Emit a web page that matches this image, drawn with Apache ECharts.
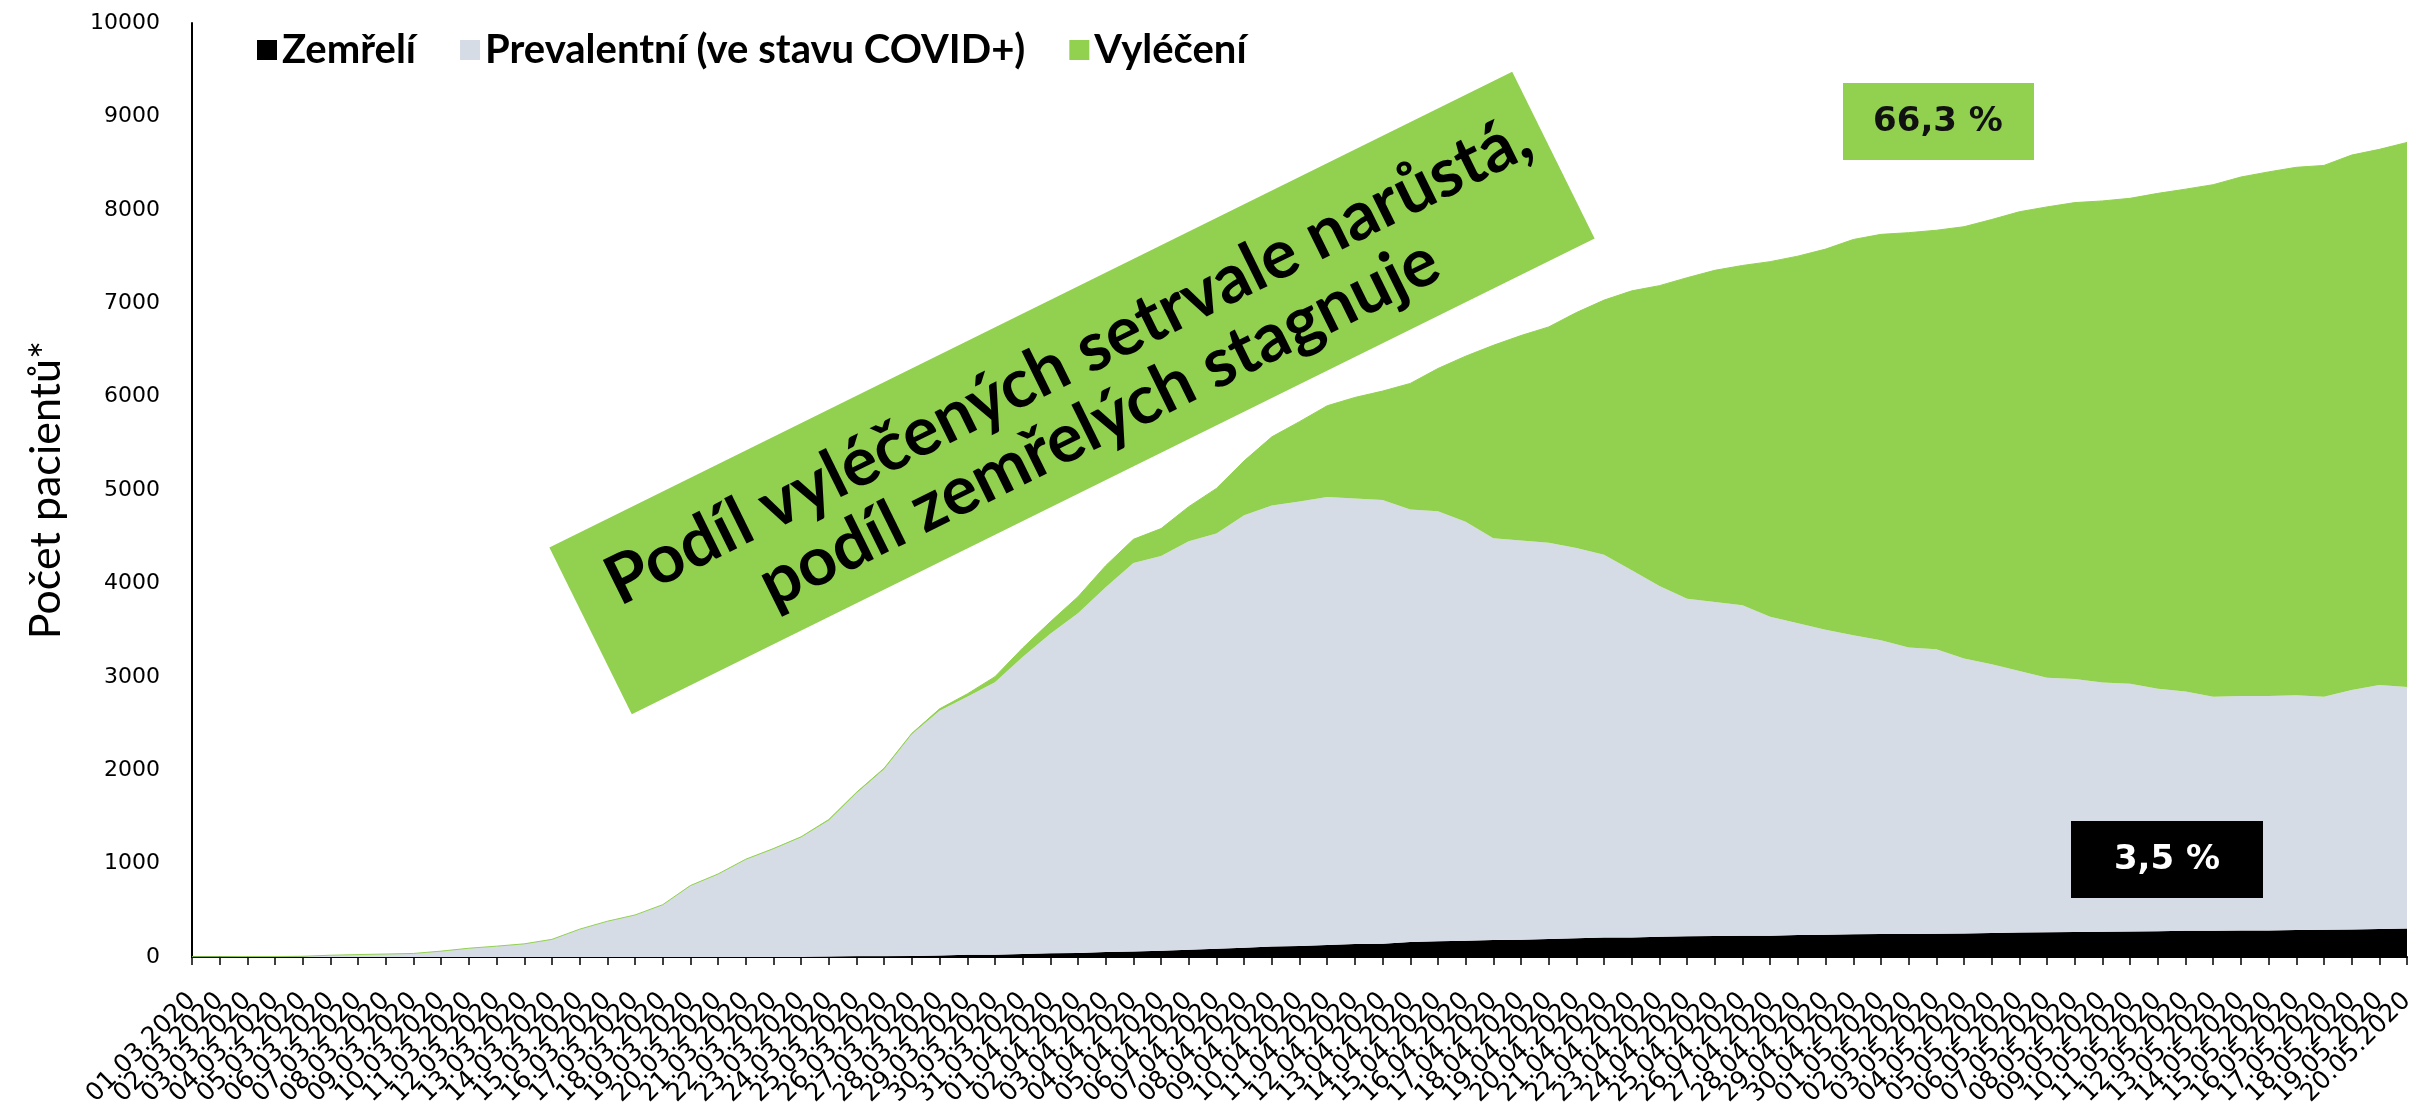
<!DOCTYPE html>
<html>
<head>
<meta charset="utf-8">
<script src="https://cdn.jsdelivr.net/npm/echarts@6/dist/echarts.min.js"></script>
<style>
  html, body { margin: 0; padding: 0; background: #fff; }
  #chart { width: 2414px; height: 1103px; }
</style>
</head>
<body>
<div id="chart"></div>
<script>
// dny 01.03.2020 - 20.05.2020
var dates = [
  "01.03.2020","02.03.2020","03.03.2020","04.03.2020","05.03.2020","06.03.2020","07.03.2020","08.03.2020","09.03.2020","10.03.2020",
  "11.03.2020","12.03.2020","13.03.2020","14.03.2020","15.03.2020","16.03.2020","17.03.2020","18.03.2020","19.03.2020","20.03.2020",
  "21.03.2020","22.03.2020","23.03.2020","24.03.2020","25.03.2020","26.03.2020","27.03.2020","28.03.2020","29.03.2020","30.03.2020",
  "31.03.2020","01.04.2020","02.04.2020","03.04.2020","04.04.2020","05.04.2020","06.04.2020","07.04.2020","08.04.2020","09.04.2020",
  "10.04.2020","11.04.2020","12.04.2020","13.04.2020","14.04.2020","15.04.2020","16.04.2020","17.04.2020","18.04.2020","19.04.2020",
  "20.04.2020","21.04.2020","22.04.2020","23.04.2020","24.04.2020","25.04.2020","26.04.2020","27.04.2020","28.04.2020","29.04.2020",
  "30.04.2020","01.05.2020","02.05.2020","03.05.2020","04.05.2020","05.05.2020","06.05.2020","07.05.2020","08.05.2020","09.05.2020",
  "10.05.2020","11.05.2020","12.05.2020","13.05.2020","14.05.2020","15.05.2020","16.05.2020","17.05.2020","18.05.2020","19.05.2020",
  "20.05.2020"
];

var zemreli = [
  0,0,0,0,0,0,0,0,0,0,
  0,0,0,0,0,0,0,0,0,0,
  0,1,1,3,9,9,11,16,23,24,
  31,39,44,53,59,67,78,88,99,112,
  119,129,138,143,161,169,173,181,186,194,
  201,208,210,218,223,225,227,227,236,239,
  244,245,246,248,252,257,262,265,269,270,
  273,276,280,282,283,285,290,291,295,300,
  304
];

var prevalentni = [
  3,3,5,5,8,19,26,32,38,63,
  94,116,141,189,298,383,450,557,762,885,
  1043,1154,1280,1459,1744,2002,2373,2621,2764,2917,
  3181,3422,3637,3907,4159,4226,4373,4447,4631,4722,
  4757,4796,4772,4749,4629,4604,4486,4302,4274,4240,
  4179,4099,3930,3753,3613,3575,3540,3417,3338,3266,
  3201,3146,3069,3046,2945,2877,2799,2724,2707,2669,
  2653,2595,2562,2504,2511,2509,2513,2495,2564,2612,
  2588
];

var vyleceni = [
  0,0,0,0,0,0,0,0,0,0,
  0,0,0,0,0,0,0,3,3,4,
  4,6,6,10,10,11,11,20,30,60,
  96,128,177,230,254,294,371,482,582,735,
  856,977,1081,1167,1351,1528,1774,2066,2194,2312,
  2520,2726,2992,3217,3437,3552,3637,3801,3930,4074,
  4237,4346,4440,4487,4622,4762,4918,5042,5101,5156,
  5197,5305,5379,5483,5557,5612,5652,5689,5727,5735,
  5829
];

var yTicks = { min: 0, max: 10000, step: 1000 };

var GREEN = "#92D050";
var GREY = "#D6DCE5";
var BLACK = "#000000";
var TXT_FONT = "Lato, 'Open Sans', 'Noto Sans', sans-serif";
var NUM_FONT = "'DejaVu Sans', Verdana, sans-serif";

var MyEcharts = echarts.init(document.getElementById("chart"));

var option = {
  animation: false,
  backgroundColor: "#ffffff",
  grid: {
    left: 192,
    right: 7,
    top: 23,
    bottom: 146,
    outerBoundsMode: "none"
  },
  legend: {
    left: 252,
    top: 25,
    icon: "rect",
    itemWidth: 20,
    itemHeight: 20,
    itemGap: 44,
    textStyle: {
      color: "#000",
      fontFamily: TXT_FONT,
      fontWeight: "bold",
      fontSize: 40
    },
    data: ["Zemřelí", "Prevalentní (ve stavu COVID+)", "Vyléčení"]
  },
  xAxis: {
    type: "category",
    boundaryGap: false,
    data: dates,
    axisLine: {
      show: true,
      lineStyle: { color: "#000", width: 2 }
    },
    axisTick: {
      show: true,
      alignWithLabel: true,
      length: 8,
      lineStyle: { color: "#000", width: 1.5 }
    },
    axisLabel: {
      interval: 0,
      rotate: 45,
      margin: 40,
      hideOverlap: false,
      color: "#000",
      fontFamily: NUM_FONT,
      fontSize: 25
    },
    splitLine: { show: false }
  },
  yAxis: {
    type: "value",
    min: yTicks.min,
    max: yTicks.max,
    interval: yTicks.step,
    name: "Počet pacientů*",
    nameLocation: "middle",
    nameGap: 124,
    nameTextStyle: {
      color: "#000",
      fontFamily: TXT_FONT,
      fontSize: 43
    },
    axisLine: {
      show: true,
      lineStyle: { color: "#000", width: 2 }
    },
    axisTick: { show: false },
    axisLabel: {
      margin: 32,
      color: "#000",
      fontFamily: NUM_FONT,
      fontSize: 22,
      formatter: function (v) { return String(v); }
    },
    splitLine: { show: false }
  },
  series: [
    {
      name: "Zemřelí",
      type: "line",
      stack: "pacienti",
      symbol: "none",
      lineStyle: { width: 0 },
      itemStyle: { color: BLACK },
      areaStyle: { color: BLACK, opacity: 1 },
      data: zemreli
    },
    {
      name: "Prevalentní (ve stavu COVID+)",
      type: "line",
      stack: "pacienti",
      symbol: "none",
      lineStyle: { width: 0 },
      itemStyle: { color: GREY },
      areaStyle: { color: GREY, opacity: 1 },
      data: prevalentni
    },
    {
      name: "Vyléčení",
      type: "line",
      stack: "pacienti",
      symbol: "none",
      lineStyle: { width: 1, color: GREEN },
      itemStyle: { color: GREEN },
      areaStyle: { color: GREEN, opacity: 1 },
      data: vyleceni
    }
  ],
  graphic: [
    {
      type: "group",
      x: 1072,
      y: 393,
      rotation: 26.3 * Math.PI / 180,
      children: [
        {
          type: "rect",
          z: 100,
          shape: { x: -537, y: -93, width: 1074, height: 186 },
          style: { fill: GREEN }
        },
        {
          type: "text",
          z: 101,
          x: 11,
          y: 4,
          style: {
            text: "Podíl vyléčených setrvale narůstá,\npodíl zemřelých stagnuje",
            fill: "#000",
            fontFamily: TXT_FONT,
            fontWeight: "bold",
            fontSize: 68,
            lineHeight: 70,
            align: "center",
            verticalAlign: "middle"
          }
        }
      ]
    },
    {
      type: "group",
      x: 1843,
      y: 83,
      children: [
        {
          type: "rect",
          z: 100,
          shape: { x: 0, y: 0, width: 191, height: 77 },
          style: { fill: GREEN }
        },
        {
          type: "text",
          z: 101,
          x: 95,
          y: 39,
          style: {
            text: "66,3 %",
            fill: "#111",
            fontFamily: NUM_FONT,
            fontWeight: "bold",
            fontSize: 34,
            align: "center",
            verticalAlign: "middle"
          }
        }
      ]
    },
    {
      type: "group",
      x: 2071,
      y: 821,
      children: [
        {
          type: "rect",
          z: 100,
          shape: { x: 0, y: 0, width: 192, height: 77 },
          style: { fill: BLACK }
        },
        {
          type: "text",
          z: 101,
          x: 96,
          y: 39,
          style: {
            text: "3,5 %",
            fill: "#fff",
            fontFamily: NUM_FONT,
            fontWeight: "bold",
            fontSize: 34,
            align: "center",
            verticalAlign: "middle"
          }
        }
      ]
    }
  ]
};

MyEcharts.setOption(option);
window.addEventListener("resize", function () {
  MyEcharts.resize();
});
</script>
</body>
</html>
